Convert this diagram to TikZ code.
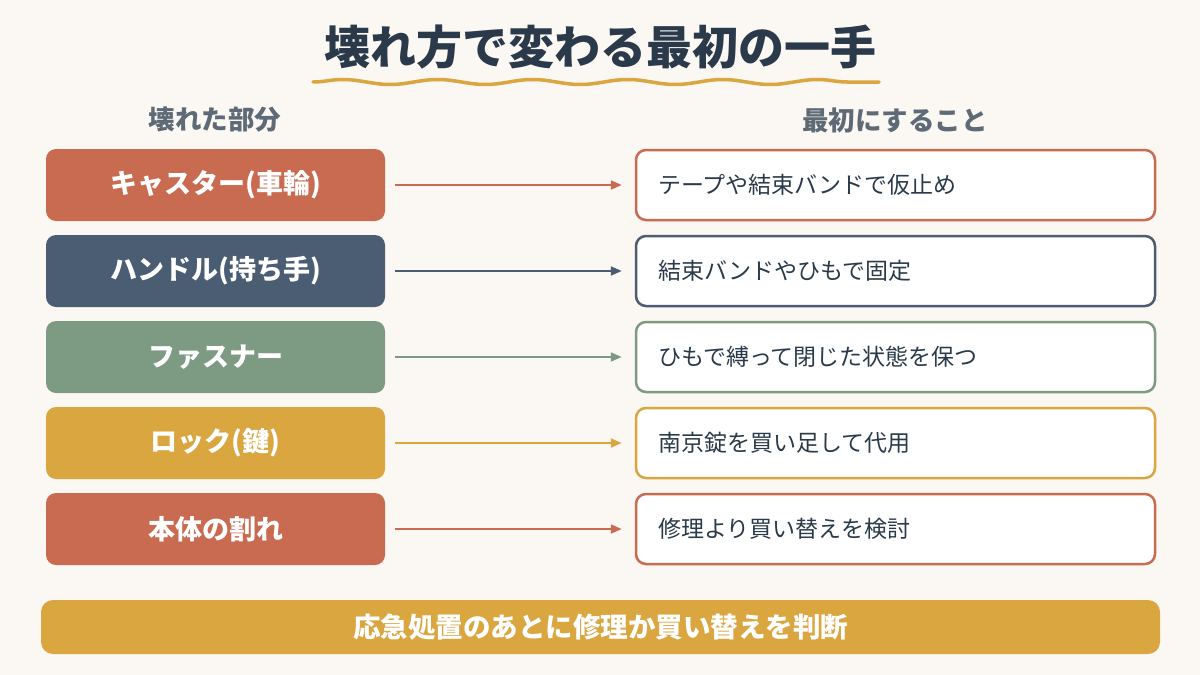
\documentclass[tikz,border=0pt]{standalone}
\usepackage{fontspec}
\setmainfont{Noto Sans CJK JP}
\usetikzlibrary{positioning,arrows.meta,decorations.pathmorphing}

\definecolor{paper}{HTML}{FBF7F3}
\definecolor{ink}{HTML}{2B3A4A}
\definecolor{slate}{HTML}{5E6B77}
\definecolor{coral}{HTML}{C96B51}
\definecolor{navy}{HTML}{4A5D73}
\definecolor{sage}{HTML}{7C9B82}
\definecolor{gold}{HTML}{D9A640}

\begin{document}
\begin{tikzpicture}[x=1pt,y=-1pt,node distance=86pt,on grid,
    part/.style={rectangle,rounded corners=10pt,minimum width=339pt,minimum height=72pt,
      text=white,font=\fontsize{27}{32}\selectfont\bfseries},
    todo/.style={rectangle,rounded corners=10pt,draw,line width=2.5pt,fill=white,
      minimum width=519pt,minimum height=70pt,text width=475pt,align=left,inner xsep=22pt,
      text=ink,font=\fontsize{23}{27}\selectfont},
    head/.style={text=slate,font=\fontsize{26.5}{30}\selectfont\bfseries},
    link/.style={-{Triangle[length=11pt,width=9pt]},line width=2pt,shorten <=10pt,shorten >=13pt}]
    \fill[paper] (0,0) rectangle (1200,675);

    % title with wavy underline
    \node[text=ink,font=\fontsize{46}{52}\selectfont\bfseries] (title) at (600,47) {壊れ方で変わる最初の一手};
    \draw[gold,line width=3.5pt,line cap=round,decorate,
      decoration={snake,segment length=95pt,amplitude=2.5pt}] (313,82) -- (879,82);

    \node[head] (hpart) at (215,120) {壊れた部分};
    \node[head] (hfirst) at (895,120) {最初にすること};

    % broken parts
    \node[part,fill=coral] (caster) at (215.5,185) {キャスター(車輪)};
    \node[part,fill=navy] (handle) [below=of caster] {ハンドル(持ち手)};
    \node[part,fill=sage] (zipper) [below=of handle] {ファスナー};
    \node[part,fill=gold] (lock) [below=of zipper] {ロック(鍵)};
    \node[part,fill=coral] (shell) [below=of lock] {本体の割れ};

    % first actions
    \node[todo,draw=coral] (tape) at (895.5,185) {テープや結束バンドで仮止め};
    \node[todo,draw=navy] (tie) [below=of tape] {結束バンドやひもで固定};
    \node[todo,draw=sage] (cord) [below=of tie] {ひもで縛って閉じた状態を保つ};
    \node[todo,draw=gold] (padlock) [below=of cord] {南京錠を買い足して代用};
    \node[todo,draw=coral] (replace) [below=of padlock] {修理より買い替えを検討};

    \draw[link,coral] (caster) -- (tape);
    \draw[link,navy] (handle) -- (tie);
    \draw[link,sage] (zipper) -- (cord);
    \draw[link,gold] (lock) -- (padlock);
    \draw[link,coral] (shell) -- (replace);

    \node[fill=gold,rounded corners=12pt,minimum width=1119pt,minimum height=54pt,
      text=white,font=\fontsize{27.5}{32}\selectfont\bfseries] (verdict) at (600.5,627)
      {応急処置のあとに修理か買い替えを判断};
\end{tikzpicture}
\end{document}
